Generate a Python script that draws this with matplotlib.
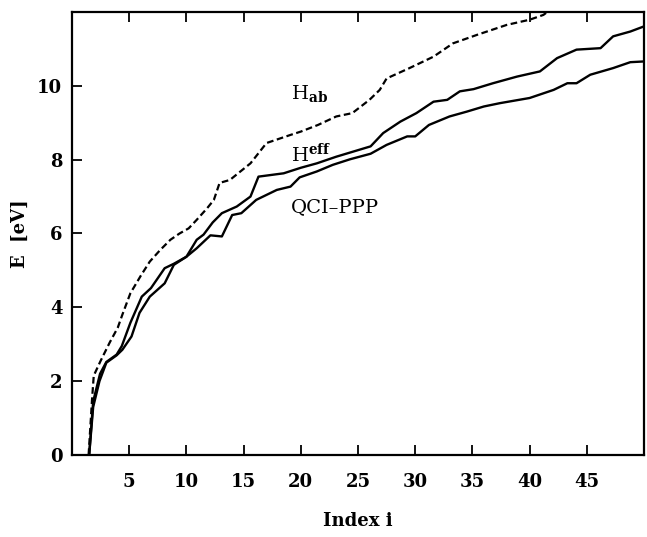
import matplotlib
matplotlib.use("Agg")
import matplotlib.pyplot as plt

# H_ab (dashed)
hab_i = [1.45, 1.75, 1.9, 2.5, 3.3, 4.0, 4.4, 5.1, 6.0, 6.8, 7.7, 8.6, 9.4, 10.2, 10.9,
         11.8, 12.4, 12.9, 13.8, 15.6, 17.0, 19.1, 20.0, 21.5, 23.1, 24.5, 26.0, 26.9,
         27.5, 29.5, 31.6, 33.3, 35.4, 38.0, 40.0, 41.2, 42.0]
hab_E = [0.0, 1.5, 2.15, 2.55, 3.05, 3.45, 3.8, 4.38, 4.85, 5.24, 5.55, 5.83, 6.0, 6.14, 6.37,
         6.68, 6.91, 7.37, 7.45, 7.9, 8.45, 8.67, 8.76, 8.94, 9.17, 9.26, 9.62, 9.89,
         10.2, 10.48, 10.79, 11.15, 11.38, 11.65, 11.79, 11.92, 12.1]

# H^eff (solid, upper)
heff_i = [1.5, 1.85, 2.45, 3.0, 3.9, 4.35, 5.1, 6.1, 6.9, 8.1, 8.9, 10.0, 10.9, 11.5, 12.3,
          13.1, 14.4, 15.6, 16.3, 18.5, 20.0, 21.4, 23.1, 24.6, 26.1, 27.2, 28.7, 30.1,
          31.6, 32.8, 33.9, 35.1, 36.8, 38.9, 40.9, 42.4, 44.1, 46.2, 47.3, 48.8, 50.0]
heff_E = [0.0, 1.45, 2.2, 2.52, 2.72, 2.95, 3.58, 4.29, 4.52, 5.06, 5.18, 5.37, 5.83, 5.97, 6.3,
          6.55, 6.73, 7.0, 7.54, 7.63, 7.78, 7.90, 8.08, 8.22, 8.36, 8.72, 9.03, 9.26,
          9.57, 9.62, 9.85, 9.91, 10.07, 10.25, 10.39, 10.75, 10.98, 11.02, 11.34, 11.47, 11.61]

# QCI-PPP (solid, lower)
qci_i = [1.5, 1.85, 2.4, 3.0, 3.9, 4.4, 5.2, 5.9, 6.8, 8.1, 8.9, 10.0, 10.9, 12.1, 13.1,
         14.0, 14.8, 16.1, 17.9, 19.1, 19.9, 21.4, 22.8, 24.3, 26.1, 27.5, 29.3, 30.0,
         31.2, 33.0, 34.5, 36.0, 37.4, 40.0, 42.1, 43.3, 44.1, 45.3, 47.3, 48.8, 50.0]
qci_E = [0.0, 1.3, 2.0, 2.5, 2.7, 2.85, 3.21, 3.85, 4.29, 4.65, 5.15, 5.37, 5.6, 5.95, 5.92,
         6.5, 6.55, 6.91, 7.18, 7.27, 7.52, 7.68, 7.86, 8.01, 8.16, 8.40, 8.63, 8.63,
         8.94, 9.17, 9.30, 9.44, 9.53, 9.67, 9.89, 10.07, 10.07, 10.30, 10.48, 10.64, 10.66]

xticks = [5, 10, 15, 20, 25, 30, 35, 40, 45]
yticks = [0, 2, 4, 6, 8, 10]

plt.rcParams['font.family'] = ['DejaVu Serif']
plt.rcParams['mathtext.fontset'] = 'dejavuserif'

fig = plt.figure(figsize=(6.47, 5.37), dpi=100)
ax = fig.add_axes([0.1113, 0.1527, 0.8841, 0.825])

ax.plot(hab_i, hab_E, color='black', lw=1.6, linestyle=(0, (3.0, 1.6)))
ax.plot(heff_i, heff_E, color='black', lw=1.7)
ax.plot(qci_i, qci_E, color='black', lw=1.7)

ax.set_xlim(0, 50)
ax.set_ylim(0, 12)
ax.set_xticks(xticks)
ax.set_yticks(yticks)
ax.tick_params(direction='in', length=7, width=1.3, top=True, right=False,
               labelsize=13)
ax.tick_params(axis='x', pad=13)
ax.tick_params(axis='y', pad=7)
for lab in ax.get_xticklabels() + ax.get_yticklabels():
    lab.set_fontweight('bold')
for s in ax.spines.values():
    s.set_linewidth(1.6)

ax.set_xlabel('Index i', fontsize=13, fontweight='bold', labelpad=15)
ax.set_ylabel('E  [eV]', fontsize=13, fontweight='bold', labelpad=6)

ax.text(19.1, 9.8, r'H$_{\mathbf{ab}}$', fontsize=14, va='center', ha='left')
ax.text(19.1, 8.15, r'H$^{\mathbf{eff}}$', fontsize=14, va='center', ha='left')
ax.text(19.1, 6.7, 'QCI\u2013PPP', fontsize=14, va='center', ha='left')

fig.savefig('out.png', dpi=100)
